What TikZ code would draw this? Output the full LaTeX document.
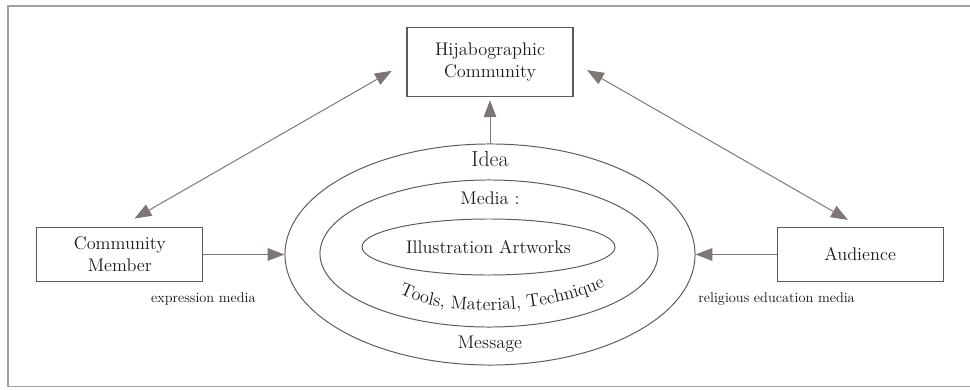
\documentclass[tikz,border=0pt]{standalone}
\usetikzlibrary{arrows.meta,positioning,shapes.geometric,decorations.text}
\definecolor{linegray}{RGB}{125,118,116}
\definecolor{boxgray}{RGB}{95,90,90}
\definecolor{framegray}{RGB}{160,160,160}
\definecolor{textgray}{RGB}{30,26,26}

\begin{document}
\begin{tikzpicture}[x=0.025cm, y=0.025cm, >={Triangle[length=12pt,width=9pt]},
  box/.style={draw=boxgray, line width=0.8pt, minimum width=4.15cm, align=center, text=textgray, font=\fontsize{13}{15.5}\selectfont},
  ring/.style={draw=boxgray, line width=0.7pt, ellipse, inner sep=0pt},
  note/.style={text=textgray, font=\fontsize{10}{12}\selectfont},
  link/.style={draw=linegray, line width=0.7pt}]
 \useasboundingbox (0,0) rectangle (970,389);
 % outer frame, open to the right
 \draw[framegray, line width=1pt] (980,383) -- (8,383) -- (8,2.5) -- (980,2.5);

 % Nested rings
 \node[ring, minimum width=10.25cm, minimum height=5.525cm] (idea) at (490,134.5) {};
 \node[ring, minimum width=8.45cm, minimum height=3.675cm] (media) at (489,135.5) {};
 \node[ring, minimum width=6.325cm, minimum height=1.4cm, text=textgray, font=\fontsize{13}{15}\selectfont] (art) at (488.5,142) {Illustration Artworks};

 % Ring labels
 \node[text=textgray, font=\fontsize{15.5}{18}\selectfont] (idealabel) at (490,230) {Idea};
 \node[text=textgray, font=\fontsize{13}{15}\selectfont] (medialabel) at (490,191) {Media :};
 \node[text=textgray, font=\fontsize{13}{15}\selectfont] (message) at (490,45) {Message};
 \path[decorate, decoration={text along path, text align=center, text color=textgray,
   text={|\fontsize{13}{15}\selectfont|Tools, Material, Technique}}]
   (398,96) .. controls (440,72) and (540,72) .. (606,103);

 % Boxes around the rings
 \node[box, minimum height=1.725cm, above=1.15cm of idea] (hijab) {Hijabographic\\Community};
 \node[box, minimum height=1.35cm, left=2.025cm of idea] (member) {Community\\Member};
 \node[box, minimum height=1.35cm, right=2.025cm of idea] (audience) {Audience};

 \node[note, below=0.15cm of member.south east] (expr) {expression media};
 \node[note, below=0.15cm of audience.south west] (relig) {religious education media};

 % Arrows
 \draw[link, ->, shorten >=2pt] (idea.north) -- (hijab.south);
 \draw[link, ->] (member.east) -- (idea.west);
 \draw[link, ->] (audience.west) -- (idea.east);
 \draw[link, <->, shorten <=12pt, shorten >=12pt] (member.north) -- (hijab.west);
 \draw[link, <->, shorten <=11pt, shorten >=10pt] (hijab.east) -- (audience.north);
\end{tikzpicture}
\end{document}
